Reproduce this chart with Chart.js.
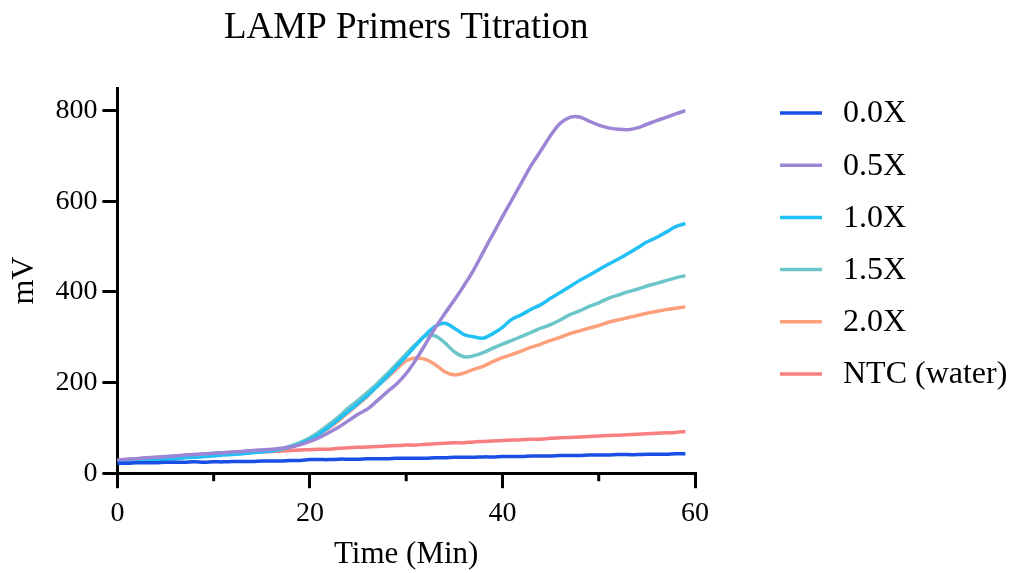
<!DOCTYPE html>
<html>
<head>
<meta charset="utf-8">
<title>LAMP Primers Titration</title>
<script src="https://cdn.jsdelivr.net/npm/chart.js@4.4.0/dist/chart.umd.min.js"></script>
<style>
  html, body { margin: 0; padding: 0; background: #fff; }
  #wrap { width: 1013px; height: 573px; }
</style>
</head>
<body>
<div id="wrap"><canvas id="chart" width="1013" height="573"></canvas></div>
<script>
// time in minutes, one reading per minute
const minutes = [
   0,  1,  2,  3,  4,  5,  6,  7,  8,  9,
  10, 11, 12, 13, 14, 15, 16, 17, 18, 19,
  20, 21, 22, 23, 24, 25, 26, 27, 28, 29,
  30, 31, 32, 33, 34, 35, 36, 37, 38, 39,
  40, 41, 42, 43, 44, 45, 46, 47, 48, 49,
  50, 51, 52, 53, 54, 55, 56, 57, 58, 59
];

const seriesNames = ['0.0X', '0.5X', '1.0X', '1.5X', '2.0X', 'NTC (water)'];

// mV readings
const primers00 = [
  22, 22, 23, 23, 23, 24, 24, 24, 25, 24,
  25, 25, 26, 26, 26, 27, 27, 27, 28, 28,
  30, 30, 30, 31, 31, 31, 32, 32, 32, 33,
  33, 33, 33, 34, 34, 35, 35, 35, 36, 36,
  37, 37, 37, 38, 38, 38, 39, 39, 39, 40,
  40, 40, 41, 41, 41, 42, 42, 42, 43, 43
];
const primers05 = [
  29, 31, 32, 34, 35, 37, 38, 40, 41, 43,
  44, 45, 47, 48, 50, 51, 53, 55, 58, 63,
  70, 79, 90, 102, 116, 130, 142, 160, 179, 197,
  220, 250, 285, 320, 352, 382, 414, 448, 488, 527,
  566, 604, 642, 680, 712, 745, 772, 785, 786, 777,
  768, 762, 759, 758, 762, 770, 778, 785, 793, 800
];
const primers10 = [
  26, 27, 28, 29, 30, 31, 32, 34, 35, 37,
  38, 40, 41, 43, 45, 47, 49, 53, 58, 65,
  74, 87, 102, 119, 137, 154, 172, 192, 213, 235,
  258, 282, 305, 324, 331, 320, 306, 301, 298, 308,
  322, 340, 350, 362, 372, 386, 399, 412, 425, 437,
  449, 461, 472, 484, 497, 510, 520, 532, 544, 551
];
const primers15 = [
  29, 30, 32, 33, 35, 36, 38, 39, 41, 42,
  44, 45, 46, 48, 49, 51, 52, 54, 60, 68,
  78, 92, 108, 125, 144, 161, 179, 198, 219, 241,
  263, 285, 303, 303, 288, 268, 257, 259, 266, 276,
  285, 293, 302, 311, 320, 328, 338, 350, 358, 368,
  376, 386, 393, 400, 406, 413, 419, 425, 431, 436
];
const primers20 = [
  28, 30, 31, 33, 34, 36, 37, 39, 40, 42,
  43, 44, 46, 47, 48, 50, 51, 53, 57, 64,
  73, 86, 100, 116, 134, 152, 170, 192, 210, 230,
  248, 254, 251, 240, 224, 217, 221, 229, 236, 246,
  255, 262, 270, 278, 285, 293, 300, 308, 314, 320,
  326, 333, 338, 343, 348, 353, 357, 361, 364, 367
];
const ntcWater = [
  28, 30, 31, 33, 34, 35, 37, 38, 39, 40,
  42, 43, 44, 45, 46, 47, 48, 49, 50, 51,
  52, 53, 53, 55, 56, 57, 58, 59, 60, 61,
  62, 62, 64, 65, 66, 67, 67, 69, 70, 71,
  72, 73, 74, 75, 75, 77, 78, 79, 80, 81,
  82, 83, 84, 85, 86, 87, 88, 89, 90, 92
];

const seriesValues = [primers00, primers05, primers10, primers15, primers20, ntcWater];
const seriesColors = ['#1a4fe6', '#9d85d6', '#22c0f5', '#6cc6c9', '#fba07a', '#f77f80'];

const yTickValues = [0, 200, 400, 600, 800];
const xLabelStep = 20;

const serif = "'Liberation Serif', 'Times New Roman', serif";
Chart.defaults.font.family = serif;
Chart.defaults.color = '#000';

// short minor ticks on the time axis (10, 30, 50)
const minorTicks = {
    id: 'minorTicks',
    afterDraw(chart) {
        const scale = chart.scales.x;
        const ctx = chart.ctx;
        const bottom = chart.chartArea.bottom;
        ctx.save();
        ctx.strokeStyle = '#000';
        ctx.lineWidth = 3;
        scale.ticks.forEach(t => {
            if (t.value % xLabelStep === 0) return;
            const px = scale.getPixelForValue(t.value);
            ctx.beginPath();
            ctx.moveTo(px, bottom);
            ctx.lineTo(px, bottom + 8);
            ctx.stroke();
        });
        ctx.restore();
    }
};

// legend drawn at the right, line sample + label
const sideLegend = {
    id: 'sideLegend',
    afterDraw(chart) {
        const ctx = chart.ctx;
        ctx.save();
        ctx.font = '32px ' + serif;
        ctx.textBaseline = 'middle';
        chart.data.datasets.forEach((ds, i) => {
            const y = 113 + i * 52.2;
            ctx.strokeStyle = ds.borderColor;
            ctx.lineWidth = 3.5;
            ctx.beginPath();
            ctx.moveTo(780, y);
            ctx.lineTo(822, y);
            ctx.stroke();
            ctx.fillStyle = '#000';
            ctx.fillText(ds.label, 843, y + 1);
        });
        ctx.restore();
    }
};

const datasets = seriesNames.map((name, i) => ({
    label: name,
    data: minutes.map((m, j) => ({ x: m, y: seriesValues[i][j] })),
    borderColor: seriesColors[i],
    backgroundColor: seriesColors[i],
    borderWidth: 3.5,
    pointRadius: 0,
    tension: 0.35,
    fill: false
}));

new Chart(document.getElementById('chart'), {
    type: 'line',
    data: { datasets },
    options: {
        responsive: false,
        animation: false,
        layout: { padding: { left: 0, right: 318, top: 0, bottom: 0 } },
        plugins: {
            legend: { display: false },
            tooltip: { enabled: false },
            title: {
                display: true,
                text: 'LAMP Primers Titration',
                fullSize: false,
                color: '#000',
                font: { size: 37, weight: 'normal' },
                padding: { top: 6, bottom: 37.6 }
            }
        },
        scales: {
            x: {
                type: 'linear',
                min: 0,
                max: 60,
                border: { display: true, color: '#000', width: 3 },
                grid: {
                    drawOnChartArea: false,
                    drawTicks: true,
                    tickLength: 15,
                    lineWidth: 3,
                    tickColor: c => (c.tick && c.tick.value % xLabelStep === 0) ? '#000' : 'rgba(0,0,0,0)'
                },
                ticks: {
                    stepSize: 10,
                    autoSkip: false,
                    maxRotation: 0,
                    padding: 9,
                    font: { size: 28 },
                    color: '#000',
                    callback: v => (v % xLabelStep === 0 ? v : '')
                },
                title: {
                    display: true,
                    text: 'Time (Min)',
                    font: { size: 31 },
                    color: '#000',
                    padding: { top: -4, bottom: 0 }
                }
            },
            y: {
                min: 0,
                max: 850,
                afterBuildTicks: scale => {
                    scale.ticks = yTickValues.map(v => ({ value: v }));
                },
                border: { display: true, color: '#000', width: 3 },
                grid: {
                    drawOnChartArea: false,
                    drawTicks: true,
                    tickLength: 15,
                    lineWidth: 3,
                    color: '#000'
                },
                ticks: {
                    padding: 5,
                    font: { size: 28 },
                    color: '#000'
                },
                title: {
                    display: true,
                    text: 'mV',
                    font: { size: 32 },
                    color: '#000',
                    padding: { top: 5, bottom: 7 }
                }
            }
        }
    },
    plugins: [minorTicks, sideLegend]
});
</script>
</body>
</html>
